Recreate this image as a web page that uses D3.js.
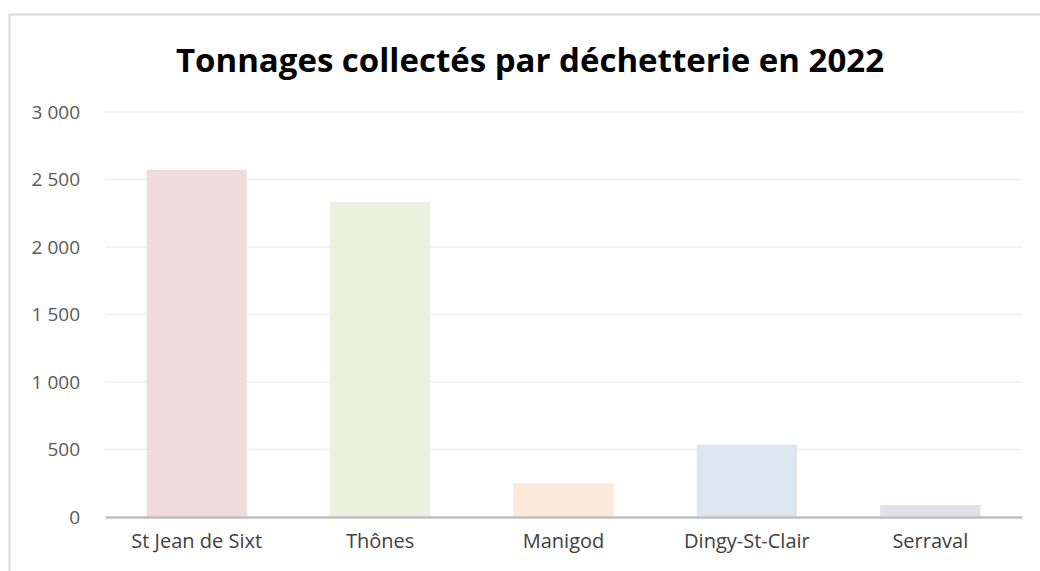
<html lang="fr">
<head>
<meta charset="UTF-8">
<title>Tonnages collectés par déchetterie en 2022</title>
<style>
    body { margin: 0; background: #fff; font-family: "Open Sans", Arial, sans-serif; }
    .grid line { stroke: #efefef; stroke-width: 1.5; }
    .tick text { fill: #595959; }
</style>
</head>
<body>
<div id="chart"></div>
<script src="https://d3js.org/d3.v7.min.js"></script>
<script>
    const categories = ['St Jean de Sixt', 'Thônes', 'Manigod', 'Dingy-St-Clair', 'Serraval'];
    const tonnages = [2572, 2335, 250, 535, 88];
    const barColors = ['#f2dcdb', '#ebf1de', '#fde9d9', '#dce6f1', '#e4dfec'];
    const yTicks = [0, 500, 1000, 1500, 2000, 2500, 3000];

    const width = 1040, height = 571;
    const plot = { left: 105, right: 1022, top: 112, bottom: 517 };

    const svg = d3.select('#chart').append('svg')
        .attr('width', width)
        .attr('height', height);

    // chart area border
    svg.append('rect')
        .attr('x', 9.5).attr('y', 14.5)
        .attr('width', width + 10).attr('height', height + 10)
        .attr('fill', '#fff')
        .attr('stroke', '#d9d9d9')
        .attr('stroke-width', 2);

    svg.append('text')
        .attr('x', 530).attr('y', 72)
        .attr('text-anchor', 'middle')
        .style('font-size', '33px')
        .style('font-weight', 'bold')
        .style('fill', '#000')
        .text('Tonnages collectés par déchetterie en 2022');

    const x = d3.scaleBand().domain(categories).range([plot.left, plot.right]);
    const y = d3.scaleLinear().domain([0, 3000]).range([plot.bottom, plot.top]);

    // gridlines
    svg.append('g').attr('class', 'grid')
        .selectAll('line')
        .data(yTicks.filter(d => d > 0))
        .enter().append('line')
        .attr('x1', plot.left).attr('x2', plot.right)
        .attr('y1', d => y(d)).attr('y2', d => y(d));

    const fmt = d => d3.format(',')(d).replace(/,/g, ' ');
    const yAxis = d3.axisLeft(y).tickValues(yTicks).tickFormat(fmt).tickSize(0).tickPadding(25);
    svg.append('g')
        .attr('transform', `translate(${plot.left},0)`)
        .call(yAxis)
        .call(g => g.select('.domain').remove())
        .selectAll('text')
        .style('font-size', '19px')
        .style('font-family', '"Open Sans", Arial, sans-serif');

    const barW = x.bandwidth() / 1.83;
    svg.selectAll('.bar')
        .data(tonnages)
        .enter().append('rect')
        .attr('class', 'bar')
        .attr('x', (d, i) => x(categories[i]) + (x.bandwidth() - barW) / 2)
        .attr('width', barW)
        .attr('y', d => y(d))
        .attr('height', d => y(0) - y(d))
        .attr('fill', (d, i) => barColors[i]);

    const xAxis = d3.axisBottom(x).tickSize(0).tickPadding(17);
    svg.append('g')
        .attr('transform', `translate(0,${plot.bottom})`)
        .call(xAxis)
        .call(g => g.select('.domain').attr('stroke', '#bfbfbf').attr('stroke-width', 2.5))
        .selectAll('text')
        .style('font-size', '20px')
        .style('fill', '#404040')
        .style('font-family', '"Open Sans", Arial, sans-serif');
</script>
</body>
</html>
